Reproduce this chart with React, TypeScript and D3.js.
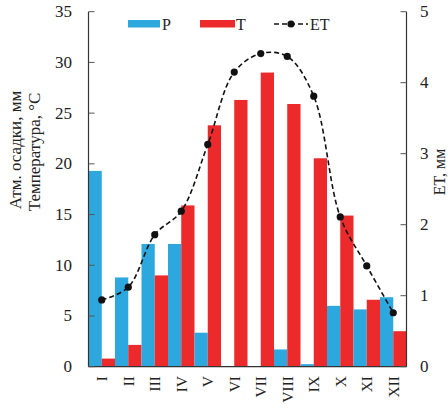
import React from "react";
import * as d3 from "d3";

const months = ["I", "II", "III", "IV", "V", "VI", "VII", "VIII", "IX", "X", "XI", "XII"];
const precip = [19.3, 8.8, 12.1, 12.1, 3.35, 0, 0, 1.7, 0.25, 6.0, 5.65, 6.85];
const temp = [0.8, 2.15, 9.0, 15.9, 23.8, 26.3, 29.0, 25.9, 20.55, 14.9, 6.6, 3.5];
const et = [0.94, 1.12, 1.86, 2.19, 3.13, 4.15, 4.41, 4.37, 3.81, 2.11, 1.42, 0.76];
const leftTicks = [0, 5, 10, 15, 20, 25, 30, 35];
const rightTicks = [0, 1, 2, 3, 4, 5];

const BLUE = "#2DA8DF";
const RED = "#EC2A2B";
const FONT = "Liberation Serif, Times New Roman, serif";

export default function App() {
  const W = 448, H = 408;
  const left = 88.5, right = 406.5, top = 11.7, bottom = 366.7;
  const x = d3.scaleBand<string>().domain(months).range([left, right]).padding(0);
  const yL = d3.scaleLinear().domain([0, 35]).range([bottom, top]);
  const yR = d3.scaleLinear().domain([0, 5]).range([bottom, top]);
  const bw = x.bandwidth();
  const line = d3
    .line<number>()
    .x((_, i) => (x(months[i]) as number) + bw / 2)
    .y((d) => yR(d))
    .curve(d3.curveCatmullRom.alpha(0.5));

  return (
    <svg width={W} height={H} style={{ position: "absolute", left: 0, top: 0, background: "#fff" }} fontFamily={FONT}>
      {/* bars */}
      {months.map((m, i) => (
        <g key={m}>
          <rect x={x(m)} y={yL(precip[i])} width={bw / 2} height={bottom - yL(precip[i])} fill={BLUE} />
          <rect x={(x(m) as number) + bw / 2} y={yL(temp[i])} width={bw / 2} height={bottom - yL(temp[i])} fill={RED} />
        </g>
      ))}
      {/* ET line */}
      <path d={line(et) || ""} fill="none" stroke="#111" strokeWidth={1.6} strokeDasharray="5,3" />
      {et.map((v, i) => (
        <circle key={i} cx={(x(months[i]) as number) + bw / 2} cy={yR(v)} r={3.6} fill="#111" />
      ))}
      {/* axes */}
      <line x1={left} x2={left} y1={top} y2={bottom} stroke="#333" strokeWidth={1.2} />
      <line x1={right} x2={right} y1={top} y2={bottom} stroke="#333" strokeWidth={1.2} />
      <line x1={left} x2={right} y1={bottom} y2={bottom} stroke="#333" strokeWidth={1.2} />
      {leftTicks.map((t) => (
        <g key={"l" + t}>
          <line x1={left} x2={left + 6} y1={yL(t)} y2={yL(t)} stroke="#555" strokeWidth={1} />
          <text x={72} y={yL(t)} textAnchor="end" dominantBaseline="central" fontSize={17} fill="#222">
            {t}
          </text>
        </g>
      ))}
      {rightTicks.map((t) => (
        <g key={"r" + t}>
          <line x1={right - 6} x2={right} y1={yR(t)} y2={yR(t)} stroke="#555" strokeWidth={1} />
          <text x={420} y={yR(t)} textAnchor="start" dominantBaseline="central" fontSize={17} fill="#222">
            {t}
          </text>
        </g>
      ))}
      {months.map((m) => (
        <text
          key={"m" + m}
          transform={`translate(${(x(m) as number) + bw / 2},${376}) rotate(-90)`}
          textAnchor="end"
          dominantBaseline="central"
          fontSize={15.5}
          fill="#222"
        >
          {m}
        </text>
      ))}
      {/* axis titles */}
      <text transform={`translate(21,150) rotate(-90)`} textAnchor="middle" fontSize={17} fill="#222">
        Атм. осадки, мм
      </text>
      <text transform={`translate(39.5,152) rotate(-90)`} textAnchor="middle" fontSize={17} fill="#222">
        Температура, °C
      </text>
      <text transform={`translate(444.5,172) rotate(-90)`} textAnchor="middle" fontSize={16} fill="#222">
        ET, мм
      </text>
      {/* legend */}
      <rect x={128} y={20} width={32} height={7.5} fill={BLUE} />
      <text x={162} y={24} dominantBaseline="central" fontSize={16} fill="#222">P</text>
      <rect x={200} y={20} width={35} height={7.5} fill={RED} />
      <text x={236} y={24} dominantBaseline="central" fontSize={16} fill="#222">T</text>
      <line x1={274} x2={308} y1={24} y2={24} stroke="#111" strokeWidth={1.6} strokeDasharray="5,3" />
      <circle cx={291} cy={24} r={3.6} fill="#111" />
      <text x={310} y={24} dominantBaseline="central" fontSize={16} fill="#222">ET</text>
    </svg>
  );
}
